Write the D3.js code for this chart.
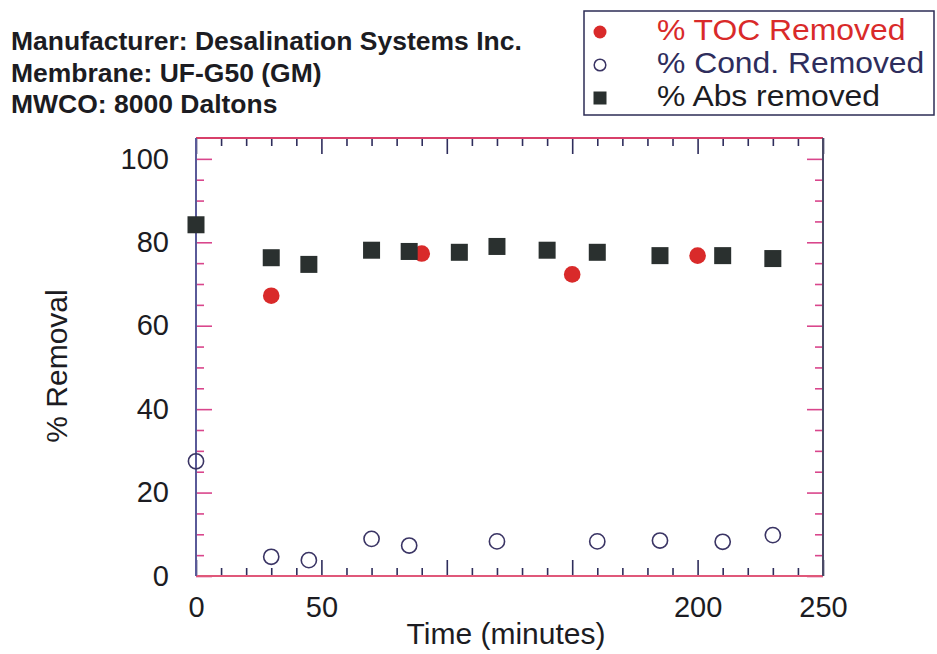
<!DOCTYPE html>
<html>
<head>
<meta charset="utf-8">
<script src="https://cdn.jsdelivr.net/npm/d3@7"></script>
<style>
  body { margin: 0; background: #ffffff; }
  svg { display: block; font-family: "Liberation Sans", Arial, Helvetica, sans-serif; }
</style>
</head>
<body>
<svg id="chart" width="937" height="654"></svg>
<script>
// Membrane test: percent removal over time
const headerLines = [
  "Manufacturer: Desalination Systems Inc.",
  "Membrane: UF-G50 (GM)",
  "MWCO: 8000 Daltons"
];

const seriesNames = ["% TOC Removed", "% Cond. Removed", "% Abs removed"];

// % TOC removed
const tocTime = [30, 90, 150, 200];
const tocRemoved = [67.2, 77.3, 72.3, 76.8];

// % conductivity removed
const condTime = [0, 30, 45, 70, 85, 120, 160, 185, 210, 230];
const condRemoved = [27.5, 4.6, 3.8, 8.9, 7.3, 8.3, 8.3, 8.5, 8.2, 9.8];

// % absorbance removed
const absTime = [0, 30, 45, 70, 85, 105, 120, 140, 160, 185, 210, 230];
const absRemoved = [84.2, 76.3, 74.7, 78.1, 77.8, 77.6, 79.0, 78.1, 77.6, 76.8, 76.8, 76.1];

const xMajorTicks = [0, 50, 100, 150, 200, 250];
// labels under the axis title are left blank
const xTickLabels = ["0", "50", "", "", "200", "250"];
const yMajorTicks = [0, 20, 40, 60, 80, 100];

const xTitle = "Time (minutes)";
const yTitle = "% Removal";

// ---- layout ----
const svg = d3.select("#chart");
const plot = { left: 196, right: 823, top: 138, bottom: 576 };

const x = d3.scaleLinear().domain([0, 250]).range([plot.left, plot.right]);
const y = d3.scaleLinear().domain([0, 105]).range([plot.bottom, plot.top]);

const RED = "#d92a2a";
const DARK = "#2a302f";
const NAVY = "#2e2d5c";
const TICK_PINK = "#d9468c";

// header text block
const header = svg.append("g").attr("transform", "translate(11,0)");
header.selectAll("text")
  .data(headerLines)
  .join("text")
  .attr("x", 0)
  .attr("y", (d, i) => [50, 82, 113][i])
  .attr("font-size", 25)
  .attr("font-weight", "bold")
  .attr("fill", "#1c1c22")
  .attr("transform", "scale(1.06,1)")
  .text(d => d);

// ---- axes (ticks point inward on all four sides) ----
const xMinor = d3.range(0, 251, 10).filter(v => !xMajorTicks.includes(v));
const yMinor = d3.range(0, 101, 5).filter(v => !yMajorTicks.includes(v));

function tickStyle(g, color) {
  g.select(".domain").remove();
  g.selectAll(".tick line").attr("stroke", color).attr("stroke-width", 1.6);
  g.selectAll(".tick text")
    .attr("font-size", 29)
    .attr("fill", "#1c1c22")
    .attr("font-family", "\"Liberation Sans\", Arial, sans-serif");
}

// bottom
svg.append("g").attr("transform", `translate(0,${plot.bottom})`)
  .call(d3.axisBottom(x).tickValues(xMinor).tickSize(-8).tickFormat(""))
  .call(g => tickStyle(g, NAVY));
svg.append("g").attr("transform", `translate(0,${plot.bottom})`)
  .call(d3.axisBottom(x).tickValues(xMajorTicks).tickSize(-16).tickPadding(20)
    .tickFormat((d, i) => xTickLabels[i]))
  .call(g => tickStyle(g, NAVY));
// top
svg.append("g").attr("transform", `translate(0,${plot.top})`)
  .call(d3.axisTop(x).tickValues(xMinor).tickSize(-8).tickFormat(""))
  .call(g => tickStyle(g, NAVY));
svg.append("g").attr("transform", `translate(0,${plot.top})`)
  .call(d3.axisTop(x).tickValues(xMajorTicks).tickSize(-16).tickFormat(""))
  .call(g => tickStyle(g, NAVY));
// left
svg.append("g").attr("transform", `translate(${plot.left},0)`)
  .call(d3.axisLeft(y).tickValues(yMinor).tickSize(-8).tickFormat(""))
  .call(g => tickStyle(g, TICK_PINK));
svg.append("g").attr("transform", `translate(${plot.left},0)`)
  .call(d3.axisLeft(y).tickValues(yMajorTicks).tickSize(-16).tickPadding(27).tickFormat(d3.format("d")))
  .call(g => tickStyle(g, TICK_PINK));
// right
svg.append("g").attr("transform", `translate(${plot.right},0)`)
  .call(d3.axisRight(y).tickValues(yMinor).tickSize(-8).tickFormat(""))
  .call(g => tickStyle(g, TICK_PINK));
svg.append("g").attr("transform", `translate(${plot.right},0)`)
  .call(d3.axisRight(y).tickValues(yMajorTicks).tickSize(-16).tickFormat(""))
  .call(g => tickStyle(g, TICK_PINK));

// frame
const frame = svg.append("g").attr("fill", "none").attr("stroke-width", 2);
frame.append("line").attr("x1", plot.left).attr("x2", plot.right).attr("y1", plot.top).attr("y2", plot.top).attr("stroke", "#d8406a");
frame.append("line").attr("x1", plot.left).attr("x2", plot.right).attr("y1", plot.bottom).attr("y2", plot.bottom).attr("stroke", "#e0587a");
frame.append("line").attr("x1", plot.left).attr("x2", plot.left).attr("y1", plot.top).attr("y2", plot.bottom).attr("stroke", "#5a5a98");
frame.append("line").attr("x1", plot.right).attr("x2", plot.right).attr("y1", plot.top).attr("y2", plot.bottom).attr("stroke", "#4a4a66");

// axis titles
svg.append("text")
  .attr("x", 506).attr("y", 644)
  .attr("text-anchor", "middle")
  .attr("font-size", 30)
  .attr("fill", "#1c1c22")
  .text(xTitle);

svg.append("text")
  .attr("transform", "translate(67,366) rotate(-90)")
  .attr("text-anchor", "middle")
  .attr("font-size", 30)
  .attr("fill", "#1c1c22")
  .text(yTitle);

// ---- data marks ----
const marks = svg.append("g");

// TOC: filled red circles
marks.append("g").selectAll("circle")
  .data(d3.zip(tocTime, tocRemoved))
  .join("circle")
  .attr("cx", d => x(d[0])).attr("cy", d => y(d[1]))
  .attr("r", 8.3)
  .attr("fill", RED);

// Conductivity: open circles
marks.append("g").selectAll("circle")
  .data(d3.zip(condTime, condRemoved))
  .join("circle")
  .attr("cx", d => x(d[0])).attr("cy", d => y(d[1]))
  .attr("r", 7.6)
  .attr("fill", "none")
  .attr("stroke", "#3a3464")
  .attr("stroke-width", 1.6);

// Absorbance: filled squares
const sq = 17;
marks.append("g").selectAll("rect")
  .data(d3.zip(absTime, absRemoved))
  .join("rect")
  .attr("x", d => x(d[0]) - sq / 2).attr("y", d => y(d[1]) - sq / 2)
  .attr("width", sq).attr("height", sq)
  .attr("fill", DARK);

// ---- legend ----
const legend = svg.append("g");
legend.append("rect")
  .attr("x", 584).attr("y", 11).attr("width", 350).attr("height", 104)
  .attr("fill", "#fff").attr("stroke", "#2c2c55").attr("stroke-width", 1.5);

const rowY = [32, 65, 98];
const rowBase = [40, 73, 106];
const textColors = [RED, NAVY, "#1c1c22"];

legend.append("circle").attr("cx", 600).attr("cy", rowY[0]).attr("r", 6.5).attr("fill", RED);
legend.append("circle").attr("cx", 600).attr("cy", rowY[1]).attr("r", 5.8)
  .attr("fill", "none").attr("stroke", "#3a3464").attr("stroke-width", 1.5);
legend.append("rect").attr("x", 600 - 6.5).attr("y", rowY[2] - 6.5).attr("width", 13).attr("height", 13).attr("fill", DARK);

legend.selectAll("text")
  .data(seriesNames)
  .join("text")
  .attr("transform", (d, i) => `translate(657,${rowBase[i]}) scale(1.08,1)`)
  .attr("font-size", 29.5)
  .attr("fill", (d, i) => textColors[i])
  .text(d => d);
</script>
</body>
</html>
